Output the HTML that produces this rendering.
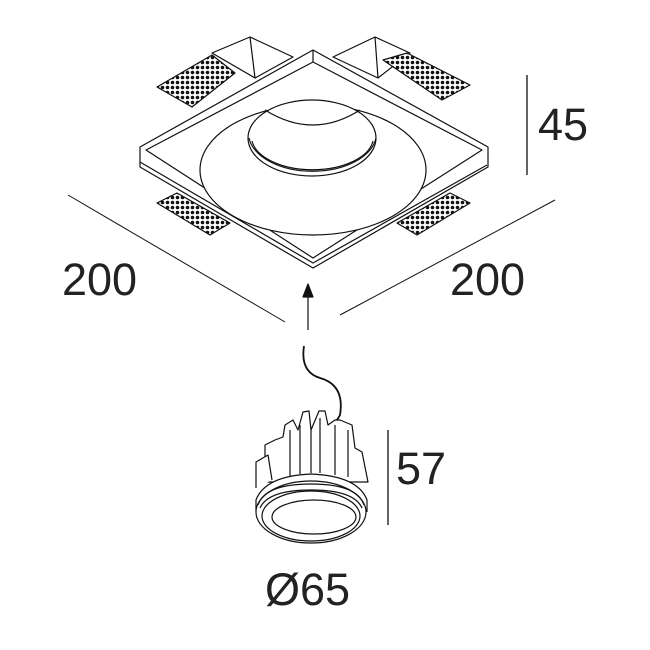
<!DOCTYPE html>
<html><head><style>body{margin:0;background:#fff}svg{display:block}text{font-family:"Liberation Sans",sans-serif;fill:#222}</style></head><body>
<svg width="650" height="650" viewBox="0 0 650 650" xmlns="http://www.w3.org/2000/svg">
<defs>
<pattern id="dots" width="5" height="5" patternUnits="userSpaceOnUse"><rect width="5" height="5" fill="#fff"/><circle cx="2.5" cy="2.5" r="1.8" fill="#111"/></pattern>
</defs>
<g stroke="#111" stroke-width="1.2" fill="#fff" stroke-linejoin="round">
<!-- brackets -->
<polygon points="212,53 250,37 293,57 255,78"/>
<polyline points="250,37 255,78" fill="none"/>
<polygon points="333,57 375,37 410,53 378,78"/>
<polyline points="375,37 378,78" fill="none"/>
<!-- mesh tabs -->
<polygon points="157,87 212,55 235,73 192,107" fill="url(#dots)"/>
<polygon points="383,60 407,53 470,85 442,100" fill="url(#dots)"/>
<polygon points="157,203 177,193 230,223 210,235" fill="url(#dots)"/>
<polygon points="397,223 450,193 470,203 417,235" fill="url(#dots)"/>
<!-- housing -->
<polygon points="313,50 488,147 488,167 313,268 140,167 140,147"/>
<polygon points="313,62 482,150 313,258 146,150" fill="none"/>
<polyline points="140,162 313,263 487,165" fill="none"/>
<line x1="313" y1="50" x2="313" y2="62"/>
<ellipse cx="313" cy="170" rx="113" ry="65"/>
<ellipse cx="312" cy="138" rx="64" ry="38" fill="#fff"/>
<path d="M249,138 A64,38 0 0 0 376,138" fill="none"/>
<path d="M252,141 A61,33 0 0 0 373,141" fill="none"/>
<path d="M265,110 Q313,140 360,110" fill="none"/>
<!-- dimension lines -->
<line x1="68" y1="195" x2="285" y2="322" stroke-width="1"/>
<line x1="340" y1="315" x2="555" y2="200" stroke-width="1"/>
<line x1="527" y1="75" x2="527" y2="175" stroke-width="1.3"/>
<line x1="388" y1="430" x2="388" y2="525" stroke-width="1.3"/>
<line x1="308" y1="330" x2="308" y2="295" stroke-width="1.2"/>
<polygon points="308,284 303,297 313,297" fill="#111"/>
<!-- cable -->
<path d="M304,346 Q300,372 320,378 Q345,385 340,415 Q335,425 325,428" fill="none" stroke-width="1.8"/>
<!-- module body -->
<path d="M265,482 L265,445 L275,440 L283,437 L285,425 L293,420 L298,430 L303,412 L309,411 L311,430 L319,411 L325,411 L328,425 L335,420 L340,420 L352,425 L355,448 L362,452 L368,482 Z"/>
<line x1="290" y1="430" x2="290" y2="476"/><line x1="300" y1="425" x2="300" y2="474"/>
<line x1="311" y1="430" x2="311" y2="473"/><line x1="320" y1="418" x2="320" y2="473"/>
<line x1="335" y1="425" x2="335" y2="475"/><line x1="348" y1="430" x2="348" y2="477"/>
<path d="M256,488 L256,462 L268,455 L272,480"/>
<path d="M256,512 L256,500 Q265,476 311,474 Q358,476 367,500 L367,512" />
<ellipse cx="311" cy="512" rx="55" ry="31"/>
<path d="M258,505 Q265,484 311,484 Q357,484 364,505" fill="none"/>
<path d="M260,508 Q268,490 311,490 Q354,490 362,508" fill="none"/>
<ellipse cx="311" cy="516" rx="49" ry="25" fill="none"/>
<ellipse cx="314" cy="517" rx="42" ry="17"/>
</g>
<text x="62" y="295" font-size="45">200</text>
<text x="450" y="295" font-size="45">200</text>
<text x="538" y="140" font-size="45">45</text>
<text x="396" y="484" font-size="45">57</text>
<text x="265" y="605" font-size="45">Ø65</text>
</svg>
</body></html>
